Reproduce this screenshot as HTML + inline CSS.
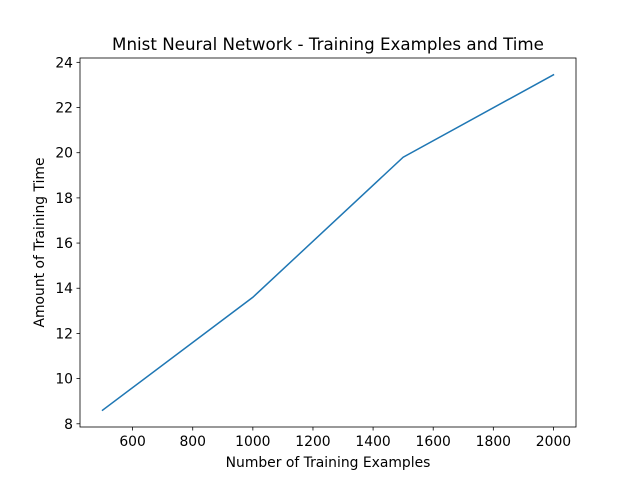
<!DOCTYPE html>
<html><head><meta charset="utf-8"><style>
body{margin:0;background:#fff;}
svg text{font-family:"DejaVu Sans","Liberation Sans",sans-serif;fill:#000;}
</style></head><body>
<svg id="chart" width="640" height="480" xmlns="http://www.w3.org/2000/svg">
<rect width="640" height="480" fill="#fff"/>
</svg>
<script>
const xValues=[500,1000,1500,2000];
const yValues=[8.6,13.6,19.8,23.45];
const xTicks=[600,800,1000,1200,1400,1600,1800,2000];
const yTicks=[8,10,12,14,16,18,20,22,24];
const L=80,R=576,T=58,B=427;
const xmin=425,xmax=2075,ymin=7.8575,ymax=24.1925;
const sx=v=>L+(v-xmin)/(xmax-xmin)*(R-L);
const sy=v=>B-(v-ymin)/(ymax-ymin)*(B-T);
const svg=document.getElementById('chart');
const NS='http://www.w3.org/2000/svg';
function mk(tag,attrs,parent){const e=document.createElementNS(NS,tag);for(const k in attrs)e.setAttribute(k,attrs[k]);(parent||svg).appendChild(e);return e;}
const g=mk('g',{});


xTicks.forEach(t=>{const x=sx(t);
mk('line',{x1:x,x2:x,y1:B,y2:B+3.5,stroke:'#000','stroke-width':0.8},g);
const tx=mk('text',{x:x,y:B+19,'text-anchor':'middle','font-size':13.9},g);tx.textContent=t;

});
yTicks.forEach(t=>{const y=sy(t);
mk('line',{x1:L-3.5,x2:L,y1:y,y2:y,stroke:'#000','stroke-width':0.8},g);
const tx=mk('text',{x:L-7,y:y+5,'text-anchor':'end','font-size':13.9},g);tx.textContent=t;

});
const pts=xValues.map((v,i)=>sx(v)+','+sy(yValues[i])).join(' ');
const line=mk('polyline',{points:pts,fill:'none',stroke:'#1f77b4','stroke-width':1.5,'stroke-linecap':'square'});


const frame=mk('rect',{x:L,y:T,width:R-L,height:B-T,fill:'none',stroke:'#000','stroke-width':0.8});


const title=mk('text',{x:(L+R)/2,y:T-8,'text-anchor':'middle','font-size':16.7});title.textContent='Mnist Neural Network - Training Examples and Time';


const xl=mk('text',{x:(L+R)/2,y:467,'text-anchor':'middle','font-size':13.9});xl.textContent='Number of Training Examples';


const yl=mk('text',{x:0,y:0,'text-anchor':'middle','font-size':13.9,transform:`translate(44,${(T+B)/2}) rotate(-90)`});yl.textContent='Amount of Training Time';


</script>
</body></html>
